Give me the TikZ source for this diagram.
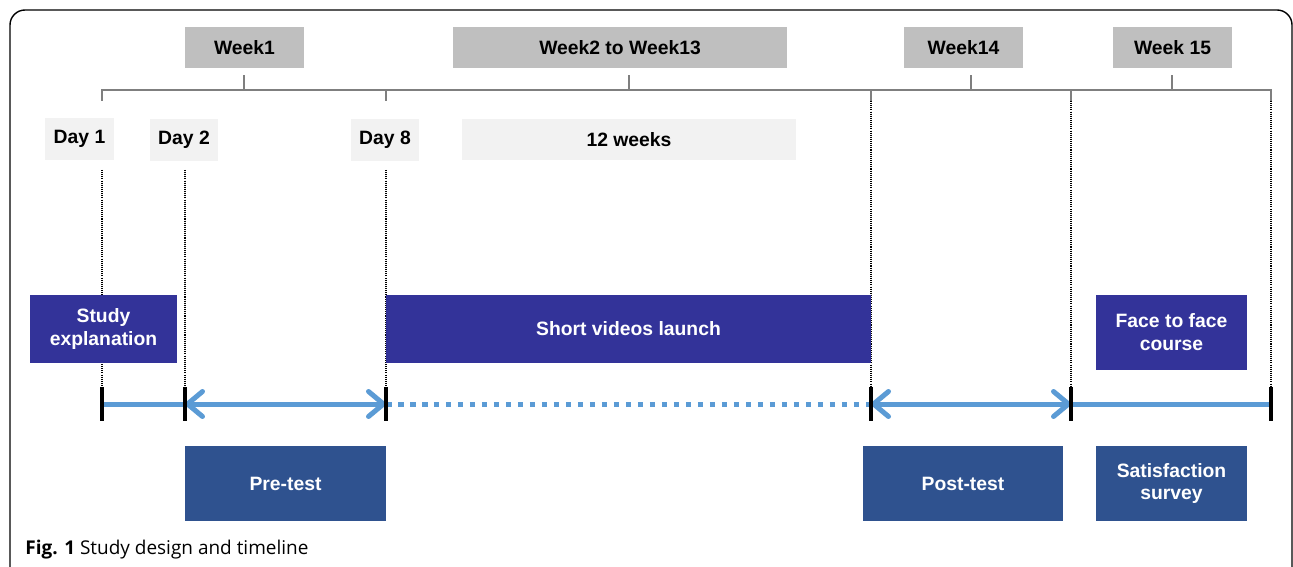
\documentclass[tikz,border=0pt]{standalone}
\usepackage{fontspec}
\setmainfont{Liberation Sans}
\newfontfamily\capfont{Open Sans}
\usepackage{tikz}
\usetikzlibrary{arrows.meta}
\definecolor{weekgray}{RGB}{191,191,191}
\definecolor{daygray}{RGB}{242,242,242}
\definecolor{indigo}{RGB}{51,51,153}
\definecolor{navy}{RGB}{47,82,143}
\definecolor{tlblue}{RGB}{91,155,213}
\definecolor{brgray}{RGB}{127,127,127}
\tikzset{
	lab/.style={inner sep=0pt,align=center,font=\bfseries\fontsize{11}{13}\selectfont},
	week/.style={lab,fill=weekgray,minimum height=0.82cm},
	day/.style={lab,fill=daygray,minimum height=0.84cm},
	task/.style={lab,fill=indigo,text=white},
	test/.style={lab,fill=navy,text=white,minimum height=1.5cm},
	tl/.style={line width=0.1cm,color=tlblue,>={Straight Barb[length=3mm,width=5mm,round]}},
}

\begin{document}
\begin{tikzpicture}[x=0.02cm,y=-0.02cm]
	\useasboundingbox (0,0) rectangle (1293,567);
	\draw[line width=0.8pt,rounded corners=0.3cm] (10,580)--(10,10)--(1292,10)--(1292,580);
	% weeks
	\node[week,minimum width=2.38cm] (wk1) at (244.5,47.5) {Week1};
	\node[week,minimum width=6.68cm] (wk2) at (620,47.5) {Week2 to Week13};
	\node[week,minimum width=2.38cm] (wk14) at (963.5,47.5) {Week14};
	\node[week,minimum width=2.38cm] (wk15) at (1172.5,47.5) {Week 15};
	\draw[brgray,line width=0.6pt] (102,101)--(102,90)--(1271,90)--(1271,101);
	\foreach \x in {386,871,1071}
		{\draw[brgray,line width=0.6pt] (\x,90)--(\x,101);};
	\foreach \x in {244,629,971,1172}
		{\draw[brgray,line width=0.6pt] (\x,90)--(\x,75);};
	% days
	\node[day,minimum width=1.38cm] (d1) at (79.5,139) {Day 1};
	\node[day,minimum width=1.36cm] (d2) at (184,140) {Day 2};
	\node[day,minimum width=1.36cm] (d8) at (385,140) {Day 8};
	\node[day,minimum width=6.68cm] (w12) at (629,139.5) {12 weeks};
	% guide lines
	\foreach \x/\y in {102/170,185/170,386/170,871/101,1071/101,1271/101}
		{\draw[line width=0.6pt,dash pattern=on 0.6pt off 0.6pt] (\x,\y)--(\x,390);};
	% activities
	\node[task,minimum width=2.94cm,minimum height=1.36cm] (expl) at (103.5,329) {Study\\explanation};
	\node[task,minimum width=9.7cm,minimum height=1.36cm] (video) at (628.5,329) {Short videos launch};
	\node[task,minimum width=3.02cm,minimum height=1.5cm] (face) at (1171.5,332.5) {Face to face\\course};
	\node[test,minimum width=4.02cm] (pre) at (285.5,483.5) {Pre-test};
	\node[test,minimum width=4.0cm] (post) at (963,483.5) {Post-test};
	\node[test,minimum width=3.02cm] (surv) at (1171.5,483.5) {Satisfaction\\survey};
	% timeline
	\foreach \x [count=\i] in {102,185,386,871,1071,1271}
		{\coordinate (t\i) at (\x,404);};
	\draw[tl] (t1)--(t2);
	\draw[tl,<->] (t2)--(t3);
	\draw[tl,dash pattern=on 0.11cm off 0.13cm] (t3)--(t4);
	\draw[tl,<->] (t4)--(t5);
	\draw[tl] (t5)--(t6);
	\foreach \i in {1,...,6}
		{\draw[line width=0.08cm] (t\i) ++(0,-17)--++(0,34);};
	\node[anchor=base west,inner sep=0pt,font=\capfont\fontsize{10.8}{12}\selectfont] (cap) at (25,554) {\textbf{Fig. 1} Study design and timeline};
\end{tikzpicture}
\end{document}
